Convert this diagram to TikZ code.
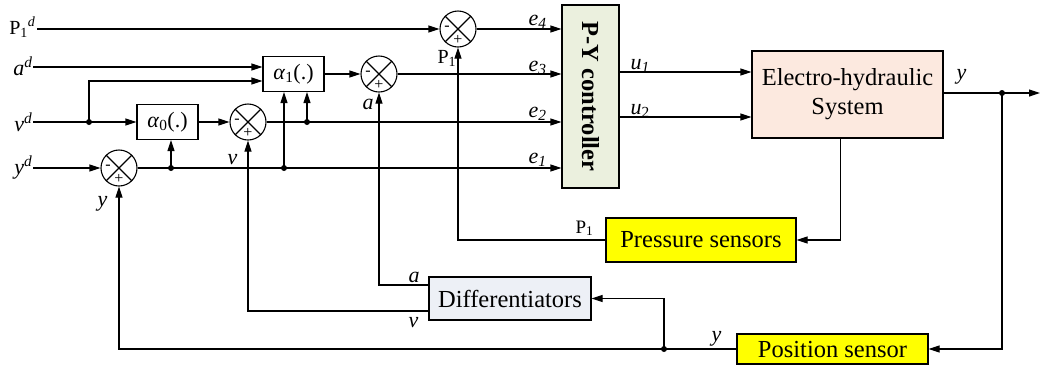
\documentclass[tikz,border=0pt]{standalone}
\usepackage{fontspec}
\setmainfont{Liberation Serif}
\usetikzlibrary{arrows.meta}
\definecolor{ctrlfill}{HTML}{EBF0DE}
\definecolor{ehfill}{HTML}{FCE9DF}
\definecolor{difffill}{HTML}{EDF0F6}
\definecolor{sensfill}{HTML}{FFFF00}
\begin{document}
\begin{tikzpicture}[x=1pt,y=-1pt, line width=1.1pt,
  >={Triangle[length=11pt,width=7pt]},
  blk/.style={draw, line width=1.1pt, inner sep=0pt},
  bigtxt/.style={font=\fontsize{24.5}{29}\selectfont},
  sumj/.style={draw, circle, minimum size=36pt, inner sep=0pt, line width=1.1pt},
  lbl/.style={font=\fontsize{22}{24}\selectfont\itshape, inner sep=0pt, anchor=base west},
  plbl/.style={font=\fontsize{20}{24}\selectfont, inner sep=0pt, anchor=base west},
  sgn/.style={font=\fontsize{16}{16}\selectfont, inner sep=0pt},
  dot/.style={circle, fill, inner sep=0pt, minimum size=6pt}
]
\useasboundingbox (0,0) rectangle (1043,368);

% blocks
\node[blk, fill=ctrlfill, rotate=-90, minimum width=183pt, minimum height=57pt, font=\fontsize{24.5}{29}\selectfont\bfseries] (ctrl) at (590.5,96.5) {P-Y controller};
\node[blk, fill=ehfill, minimum width=191pt, minimum height=87pt, bigtxt, align=center] (EH) at (847.5,94.5) {Electro-hydraulic\\System};
\node[blk, minimum width=61pt, minimum height=35pt, font=\fontsize{22}{24}\selectfont] (a1) at (293.5,74) {\textit{α}\textsubscript{1}(.)};
\node[blk, minimum width=61pt, minimum height=35pt, font=\fontsize{22}{24}\selectfont] (a0) at (167.5,122) {\textit{α}\textsubscript{0}(.)};
\node[blk, fill=sensfill, minimum width=190pt, minimum height=44pt, bigtxt] (press) at (701,240) {Pressure sensors};
\node[blk, fill=sensfill, minimum width=191pt, minimum height=30pt, bigtxt] (pos) at (832.5,349) {Position sensor};
\node[blk, fill=difffill, minimum width=162pt, minimum height=43pt, bigtxt] (diff) at (510,298.5) {Differentiators};

% summing junctions
\foreach \n/\x/\y in {s4/458/29, s3/379/74, s2/248/122, s1/119/168}{
  \node[sumj] (\n) at (\x,\y) {};
  \draw (\n.north west) -- (\n.south east);
  \draw (\n.north east) -- (\n.south west);
  \node[sgn] at ([xshift=-11pt,yshift=1pt]\n.center) {-};
  \node[sgn] at ([yshift=-11pt]\n.center) {+};
}

% input coordinates and labels
\coordinate (inP) at (37,29);
\coordinate (inA) at (33,67);
\coordinate (inV) at (33,122);
\coordinate (inY) at (33,168);
\node[plbl, anchor=base east] (lP) at (36,34) {P\textsubscript{1}\textsuperscript{\textit{d}}};
\node[lbl, anchor=base east] (lA) at (33,75) {a\textsuperscript{d}};
\node[lbl, anchor=base east] (lV) at (33,131) {v\textsuperscript{d}};
\node[lbl, anchor=base east] (lY) at (33,174) {y\textsuperscript{d}};

% dots
\node[dot] (dv) at (89,122) {};
\node[dot] (d171) at (171,168) {};
\node[dot] (d284) at (284,168) {};
\node[dot] (d307) at (307,122) {};
\node[dot] (dy) at (1002,93) {};
\node[dot] (dp) at (664,349) {};
\coordinate (out) at (1040,93);
\coordinate (u1row) at (0,72);
\coordinate (u2row) at (0,117);

% forward paths
\draw[->] (inP) -- (s4);
\draw[->] (inA) -- (inA -| a1.west);
\draw[->] (inV) -- (a0.west);
\draw[->] (dv.center) |- ([yshift=-7pt]a1.west);
\draw[->] (a0.east) -- (s2);
\draw[->] (inY) -- (s1);
\draw[->] (a1.east |- s3) -- (s3);
\draw[->] (s4) -- (s4 -| ctrl.south);
\draw[->] (s3) -- (s3 -| ctrl.south);
\draw[->] (s2) -- (s2 -| ctrl.south);
\draw[->] (s1) -- (s1 -| ctrl.south);
\draw[->] (d171.center) -- (d171 |- a0.south);
\draw[->] (d284.center) -- (d284 |- a1.south);
\draw[->] (d307.center) -- (d307 |- a1.south);
\draw[->] (ctrl.north |- u1row) -- (EH.west |- u1row);
\draw[->] (ctrl.north |- u2row) -- (EH.west |- u2row);
\draw[->] (EH.east |- dy) -- (out);

% feedback paths
\draw[->] ([xshift=89pt]EH.south west) |- (press.east);
\draw[->] (press.west) -| (s4.south);
\draw[->] (dy.center) |- (pos.east);
\draw[->] (pos.west) -| (s1.south);
\draw[->] (dp.center) |- (diff.east);
\draw[->] (diff.west |- 0,285) -| (s3.south);
\draw[->] (diff.west |- 0,311) -| (s2.south);

% signal labels
\node[lbl] at (528,25) {e\textsubscript{4}};
\node[lbl] at (528,71) {e\textsubscript{3}};
\node[lbl] at (528,117) {e\textsubscript{2}};
\node[lbl] at (528,163) {e\textsubscript{1}};
\node[lbl] at (630,69) {u\textsubscript{1}};
\node[lbl] at (630,114) {u\textsubscript{\upshape 2}};
\node[lbl] at (956,79) {y};
\node[lbl] at (711,341) {y};
\node[lbl] at (408,282) {a};
\node[lbl] at (408,327) {v};
\node[plbl, font=\fontsize{19}{22}\selectfont] at (575,233) {P\textsubscript{1}};
\node[lbl] at (97,206) {y};
\node[lbl] at (227,164) {v};
\node[lbl] at (362,109) {a};
\node[plbl] at (437,63) {P\textsubscript{1}};
\end{tikzpicture}
\end{document}
